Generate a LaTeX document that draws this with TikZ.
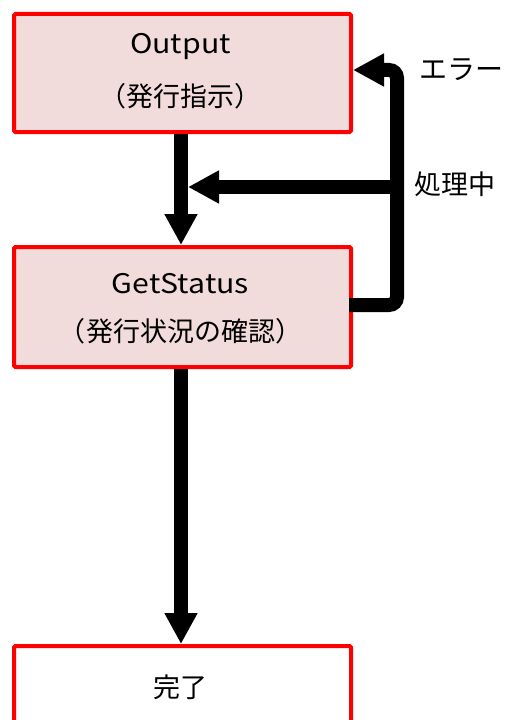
\documentclass[tikz,border=0pt]{standalone}
\usepackage{fontspec}
\setmainfont{Noto Sans CJK JP}
\newfontfamily\latinf[FakeStretch=1.12]{Noto Sans CJK JP}
\usetikzlibrary{arrows.meta}
\definecolor{boxpink}{HTML}{F2DCDB}
\tikzset{
  flowbox/.style={draw=red, line width=4bp, rounded corners=1.5bp, minimum width=337bp, anchor=north west, inner sep=0pt},
  lbl/.style={font=\fontsize{27bp}{32bp}\selectfont, inner sep=0pt},
  arr/.style={line width=14bp, -{Triangle[length=31bp,width=31bp]}}
}
\begin{document}
\begin{tikzpicture}[x=1bp,y=-1bp]
\useasboundingbox (0,0) rectangle (508,720);
\clip (0,0) rectangle (508,720);
% boxes
\node[flowbox, fill=boxpink, minimum height=118bp] (o) at (12,12) {};
\node[flowbox, fill=boxpink, minimum height=120bp] (g) at (12,245) {};
\node[flowbox, fill=white, minimum height=120bp] (d) at (12,644) {};
% texts
\node[lbl] (t1) at (180.5,47) {\latinf Output};
\node[lbl] (t2) at (180.5,96) {（発行指示）};
\node[lbl] (t3) at (180.5,284) {\latinf GetStatus};
\node[lbl] (t4) at (180.5,331) {（発行状況の確認）};
\node[lbl] (t5) at (180.5,687) {完了};
\node[lbl, anchor=west, font=\fontsize{28bp}{32bp}\selectfont] (e) at (419,70) {エラー};
\node[lbl, anchor=west] (p) at (414,184) {処理中};
% connectors
\coordinate (mx) at (181,0);
\draw[arr] (o.south -| mx) -- (g.north -| mx);
\draw[arr] (g.south -| mx) -- (d.north -| mx);
\coordinate (gr) at (349,305);
\coordinate (lt) at (397,70);
\coordinate (br) at (397,187);
\coordinate (bl) at (188,187);
\draw[arr, rounded corners=8bp] (gr) -| (lt) -- (lt -| o.east);
\draw[arr] (br) -- (bl);
\end{tikzpicture}
\end{document}
